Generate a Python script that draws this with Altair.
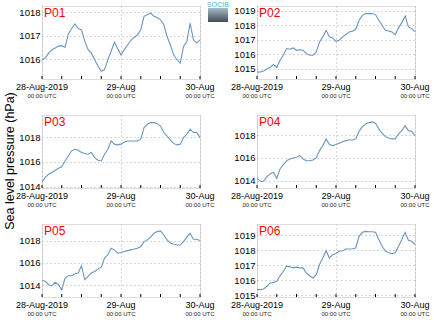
import altair as alt
import pandas as pd

hours = list(range(49))

p01 = [1015.97, 1016.04, 1016.25, 1016.40, 1016.47, 1016.55, 1016.57, 1016.50, 1017.06, 1017.30,
       1017.50, 1017.30, 1017.25, 1016.75, 1016.40, 1016.25, 1015.97, 1015.70, 1015.48, 1015.55,
       1015.97, 1016.33, 1016.72, 1016.44, 1016.18, 1016.40, 1016.60, 1016.80, 1016.92, 1017.03,
       1017.25, 1017.82, 1017.89, 1017.96, 1017.82, 1017.77, 1017.67, 1017.46, 1016.96, 1016.60,
       1016.18, 1015.97, 1015.83, 1016.54, 1016.75, 1017.53, 1016.82, 1016.68, 1016.82]
p02 = [1014.77, 1014.80, 1014.86, 1015.00, 1015.11, 1015.30, 1015.10, 1015.60, 1015.94, 1016.40,
       1016.35, 1016.44, 1016.28, 1016.32, 1016.28, 1016.05, 1015.94, 1015.94, 1016.17, 1016.85,
       1017.20, 1017.66, 1017.20, 1017.13, 1016.90, 1016.97, 1017.20, 1017.36, 1017.54, 1017.59,
       1017.72, 1018.34, 1018.68, 1018.80, 1018.80, 1018.80, 1018.73, 1018.34, 1018.00, 1017.66,
       1017.61, 1017.54, 1017.36, 1017.82, 1018.18, 1018.64, 1017.88, 1017.77, 1017.54]
p03 = [1014.35, 1014.75, 1015.00, 1015.14, 1015.33, 1015.49, 1015.60, 1016.08, 1016.48, 1016.90,
       1017.03, 1016.95, 1016.76, 1016.68, 1016.62, 1016.76, 1016.35, 1016.14, 1016.08, 1016.62,
       1017.03, 1017.70, 1017.44, 1017.38, 1017.44, 1017.62, 1017.70, 1017.70, 1017.70, 1017.70,
       1017.84, 1018.78, 1019.05, 1019.20, 1019.18, 1019.10, 1018.90, 1018.38, 1018.10, 1017.76,
       1017.50, 1017.38, 1017.44, 1017.97, 1018.24, 1018.65, 1018.38, 1018.38, 1017.97]
p04 = [1014.24, 1013.94, 1013.94, 1014.35, 1014.59, 1014.74, 1014.20, 1015.03, 1015.41, 1015.76,
       1015.91, 1016.00, 1016.06, 1016.21, 1015.91, 1015.76, 1015.76, 1015.82, 1016.00, 1016.65,
       1017.09, 1017.68, 1017.18, 1017.09, 1017.18, 1017.29, 1017.44, 1017.53, 1017.59, 1017.59,
       1017.68, 1018.35, 1018.76, 1019.00, 1019.12, 1019.18, 1019.06, 1018.56, 1018.18, 1017.88,
       1017.76, 1017.68, 1017.68, 1018.12, 1018.41, 1018.85, 1018.41, 1018.35, 1017.97]
p05 = [1014.44, 1014.36, 1014.06, 1013.97, 1014.27, 1014.06, 1013.60, 1014.65, 1014.86, 1014.86,
       1015.04, 1015.10, 1015.76, 1014.50, 1014.80, 1015.10, 1015.24, 1015.45, 1015.63, 1016.43,
       1016.73, 1017.32, 1017.17, 1016.87, 1016.93, 1017.02, 1017.10, 1017.17, 1017.24, 1017.32,
       1017.47, 1017.91, 1018.06, 1018.30, 1018.65, 1018.80, 1018.86, 1018.50, 1018.06, 1017.76,
       1017.70, 1017.60, 1017.60, 1017.90, 1018.30, 1018.65, 1018.12, 1018.12, 1018.00]
p06 = [1015.38, 1015.38, 1015.42, 1015.60, 1015.82, 1015.86, 1015.93, 1016.30, 1016.60, 1016.93,
       1016.89, 1016.82, 1016.87, 1016.82, 1016.82, 1016.48, 1016.30, 1016.15, 1016.37, 1017.04,
       1017.48, 1017.96, 1017.48, 1017.70, 1017.77, 1017.93, 1017.96, 1018.07, 1018.07, 1018.09,
       1018.14, 1018.91, 1019.18, 1019.24, 1019.22, 1019.22, 1019.18, 1018.70, 1018.25, 1017.93,
       1017.82, 1017.77, 1017.82, 1018.25, 1018.70, 1019.18, 1018.65, 1018.58, 1018.36]

names = ["P01", "P02", "P03", "P04", "P05", "P06"]
series = [p01, p02, p03, p04, p05, p06]
tick_sets = [[1016, 1017, 1018], [1015, 1016, 1017, 1018, 1019], [1014, 1016, 1018],
             [1014, 1016, 1018], [1014, 1016, 1018], [1015, 1016, 1017, 1018, 1019]]
domains = [[1015.15, 1018.26], [1014.31, 1019.32], [1013.89, 1019.8],
           [1013.35, 1019.79], [1012.96, 1019.48], [1014.89, 1019.73]]
date_hours = [0, 24, 48]
date_labels = ["28-Aug-2019", "29-Aug", "30-Aug"]
utc_labels = ["00:00 UTC", "00:00 UTC", "00:00 UTC"]
grid_hours = list(range(0, 49, 6))

W, H = 158, 73
FONT = "Liberation Sans"
LINE = "#6b96bf"
GRID = "#b0b0b0"


def panel(i):
    df = pd.DataFrame({"h": hours, "p": series[i]})
    x = alt.X("h:Q", scale=alt.Scale(domain=[0, 48], nice=False, zero=False),
              axis=alt.Axis(values=grid_hours, labels=False, ticks=False, domain=False,
                            title=None, grid=True, gridDash=[1, 3], gridColor=GRID))
    y = alt.Y("p:Q", scale=alt.Scale(domain=domains[i], nice=False, zero=False),
              axis=alt.Axis(values=tick_sets[i], format="d", ticks=False, domain=False,
                            title=None, labelFontSize=9.5, labelPadding=2, labelFont=FONT,
                            labelColor="black", gridDash=[1, 3], gridColor=GRID))
    line = alt.Chart(df).mark_line(color=LINE, strokeWidth=1.1).encode(x=x, y=y)

    lab = pd.DataFrame({"h": date_hours, "d": date_labels, "u": utc_labels})
    dates = alt.Chart(lab).mark_text(fontSize=9, font=FONT, color="black",
                                     baseline="alphabetic").encode(
        x="h:Q", y=alt.value(H + 11), text="d:N")
    utc = alt.Chart(lab).mark_text(fontSize=6, font=FONT, color="#222222",
                                   baseline="alphabetic").encode(
        x="h:Q", y=alt.value(H + 19), text="u:N")
    ticks_df = pd.DataFrame({"h": grid_hours})
    bticks = alt.Chart(ticks_df).mark_rule(color="black", strokeWidth=1).encode(
        x="h:Q", y=alt.value(H - 3), y2=alt.value(H))
    nm = alt.Chart(pd.DataFrame({"n": [names[i]]})).mark_text(
        align="left", baseline="alphabetic", color="red", fontSize=12, font=FONT).encode(
        x=alt.value(2), y=alt.value(11), text="n:N")
    layers = [line, bticks, dates, utc, nm]

    if i == 0:
        one = pd.DataFrame({"k": [1]})
        grad = alt.Gradient(gradient="linear", x1=0, y1=0, x2=0, y2=1,
                            stops=[alt.GradientStop(color="#a9bcc6", offset=0),
                                   alt.GradientStop(color="#3d4d59", offset=1)])
        logo = alt.Chart(one).mark_rect(color=grad).encode(
            x=alt.value(W + 8), x2=alt.value(W + 28), y=alt.value(2), y2=alt.value(16))
        logo_txt = alt.Chart(one).mark_text(fontSize=7, font=FONT, color="#3fb6d4",
                                            baseline="alphabetic").encode(
            x=alt.value(W + 18), y=alt.value(1), text=alt.value("SOCIB"))
        layers += [logo, logo_txt]
    if i == 2:
        one = pd.DataFrame({"k": [1]})
        ttl = alt.Chart(one).mark_text(fontSize=12.5, font=FONT, color="black", angle=270,
                                       baseline="middle").encode(
            x=alt.value(-32), y=alt.value(46), text=alt.value("Sea level pressure (hPa)"))
        layers.append(ttl)
    return alt.layer(*layers).properties(width=W, height=H)


chart = alt.concat(*[panel(i) for i in range(6)], columns=2,
                   spacing={"row": 36, "column": 57}, bounds="flush").properties(
    padding={"left": 3, "top": 0, "right": 0, "bottom": 0}
).configure_view(stroke="black", strokeWidth=1).configure(background="white")

chart.save("out.html", embed_options={"renderer": "svg", "actions": False})
